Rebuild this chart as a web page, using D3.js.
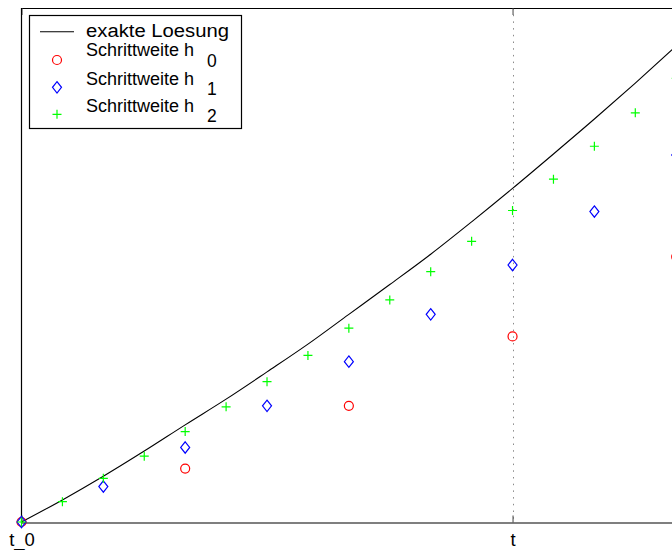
<!DOCTYPE html>
<html>
<head>
<meta charset="utf-8">
<script src="https://cdn.jsdelivr.net/npm/d3@7"></script>
<style>
  html, body { margin: 0; padding: 0; background: #fff; }
  svg { display: block; font-family: "Liberation Sans", Arial, Helvetica, sans-serif; }
</style>
</head>
<body>
<div id="chart"></div>
<script>
// grid positions (in units of the smallest step h2)
var exactX = [0, 1, 2, 3, 4, 5, 6, 7, 8, 9, 10, 11, 12, 13, 14, 15, 16];
var exactY = [0, 0.043, 0.089, 0.138, 0.189, 0.239, 0.292, 0.346, 0.404, 0.462, 0.521, 0.584, 0.649, 0.716, 0.784, 0.854, 0.926];

var h0X = [0, 4, 8, 12, 16];
var h0Y = [0, 0.104, 0.226, 0.361, 0.516];

var h1X = [0, 2, 4, 6, 8, 10, 12, 14, 16];
var h1Y = [0, 0.069, 0.145, 0.226, 0.312, 0.404, 0.500, 0.604, 0.714];

var h2X = [0, 1, 2, 3, 4, 5, 6, 7, 8, 9, 10, 11, 12, 13, 14, 15, 16];
var h2Y = [0, 0.0395, 0.085, 0.128, 0.176, 0.224, 0.273, 0.324, 0.377, 0.432, 0.487, 0.546, 0.606, 0.667, 0.731, 0.796, 0.863];

var xTicks = [0, 12];
var xTickLabels = ['t_0', 't'];

var legendLabels = ['exakte Loesung', 'Schrittweite h', 'Schrittweite h', 'Schrittweite h'];
var legendSubs = ['', '0', '1', '2'];

(function() {
  var WIDTH = 672, HEIGHT = 550;
  var LEFT = 21.5, TOP = 8, BOTTOM = 522;
  var STEP = 40.92;

  var svg = d3.select('#chart').append('svg')
    .attr('width', WIDTH)
    .attr('height', HEIGHT);

  var x = d3.scaleLinear().domain([0, 16]).range([LEFT, LEFT + 16 * STEP]);
  var y = d3.scaleLinear().domain([0, 1]).range([BOTTOM, TOP]);

  function zip(xs, ys) {
    return xs.map(function(d, i) { return { x: d, y: ys[i] }; });
  }

  var circlePath = 'M4.5,0A4.5,4.5 0 1,1 -4.5,0A4.5,4.5 0 1,1 4.5,0Z';
  var diamondPath = 'M0,-5.7L4.5,0L0,5.7L-4.5,0Z';
  var plusPath = 'M-4.5,0H4.5M0,-4.5V4.5';

  var series = [
    { data: zip(h0X, h0Y), path: circlePath, color: '#ff0000' },
    { data: zip(h1X, h1Y), path: diamondPath, color: '#0000ff' },
    { data: zip(h2X, h2Y), path: plusPath, color: '#00ff00' }
  ];

  // dotted line at t
  svg.append('line')
    .attr('x1', Math.round(x(12)) + 0.5)
    .attr('x2', Math.round(x(12)) + 0.5)
    .attr('y1', TOP)
    .attr('y2', BOTTOM)
    .style('stroke', '#8a8a8a')
    .style('stroke-width', 1)
    .style('stroke-dasharray', '1.5,5.2');

  // bottom axis with inward ticks
  var xAxis = d3.axisBottom(x)
    .tickValues(xTicks)
    .tickFormat(function(d, i) { return xTickLabels[i]; })
    .tickSizeInner(-7)
    .tickSizeOuter(0)
    .tickPadding(10.5);

  var gx = svg.append('g')
    .attr('transform', 'translate(0,' + (BOTTOM + 0.5) + ')')
    .call(xAxis);
  gx.attr('font-family', null).attr('font-size', null);
  gx.select('.domain').style('stroke', '#000').style('stroke-width', 1.2);
  gx.selectAll('.tick line').style('stroke', '#444');
  gx.selectAll('.tick text')
    .style('font-size', '18.5px')
    .style('fill', '#000');

  // top axis, ticks only
  var topAxis = d3.axisTop(x)
    .tickValues(xTicks)
    .tickFormat('')
    .tickSizeInner(-7)
    .tickSizeOuter(0);

  var gt = svg.append('g')
    .attr('transform', 'translate(0,' + TOP + ')')
    .call(topAxis);
  gt.select('.domain').style('stroke', '#000').style('stroke-width', 1);
  gt.selectAll('.tick line').style('stroke', '#444');

  // left border
  svg.append('line')
    .attr('x1', LEFT).attr('x2', LEFT)
    .attr('y1', TOP).attr('y2', BOTTOM + 1)
    .style('stroke', '#000')
    .style('stroke-width', 1.2);

  // exact solution
  var line = d3.line()
    .x(function(d) { return x(d.x); })
    .y(function(d) { return y(d.y); })
    .curve(d3.curveMonotoneX);

  svg.append('path')
    .datum(zip(exactX, exactY))
    .attr('d', line)
    .style('fill', 'none')
    .style('stroke', '#000')
    .style('stroke-width', 1.1);

  // markers
  series.forEach(function(s) {
    svg.append('g').selectAll('path')
      .data(s.data)
      .enter()
        .append('path')
        .attr('transform', function(d) { return 'translate(' + x(d.x) + ',' + y(d.y) + ')'; })
        .attr('d', s.path)
        .style('fill', 'none')
        .style('stroke', s.color)
        .style('stroke-width', 1.2);
  });

  // legend
  var legend = svg.append('g');
  legend.append('rect')
    .attr('x', 29.5).attr('y', 15.5)
    .attr('width', 212).attr('height', 113)
    .style('fill', '#fff')
    .style('stroke', '#000')
    .style('stroke-width', 1.2);

  var rowText = [36.5, 56, 84.5, 111.5];
  var rowSymbol = [31.7, 60, 87.3, 114.3];

  legend.append('line')
    .attr('x1', 40).attr('x2', 74)
    .attr('y1', rowSymbol[0]).attr('y2', rowSymbol[0])
    .style('stroke', '#000')
    .style('stroke-width', 1.1);

  series.forEach(function(s, i) {
    legend.append('path')
      .attr('transform', 'translate(57,' + rowSymbol[i + 1] + ')')
      .attr('d', s.path)
      .style('fill', 'none')
      .style('stroke', s.color)
      .style('stroke-width', 1.2);
  });

  legendLabels.forEach(function(label, i) {
    var t = legend.append('text')
      .attr('x', 86)
      .attr('y', rowText[i])
      .style('font-size', '18px')
      .style('fill', '#000')
      .text(label);
    if (i === 0) {
      t.attr('textLength', 143).attr('lengthAdjust', 'spacingAndGlyphs');
    }
    if (legendSubs[i]) {
      t.append('tspan')
        .attr('dx', 13)
        .attr('dy', 10.5)
        .style('font-size', '17.5px')
        .text(legendSubs[i]);
    }
  });
})();
</script>
</body>
</html>
